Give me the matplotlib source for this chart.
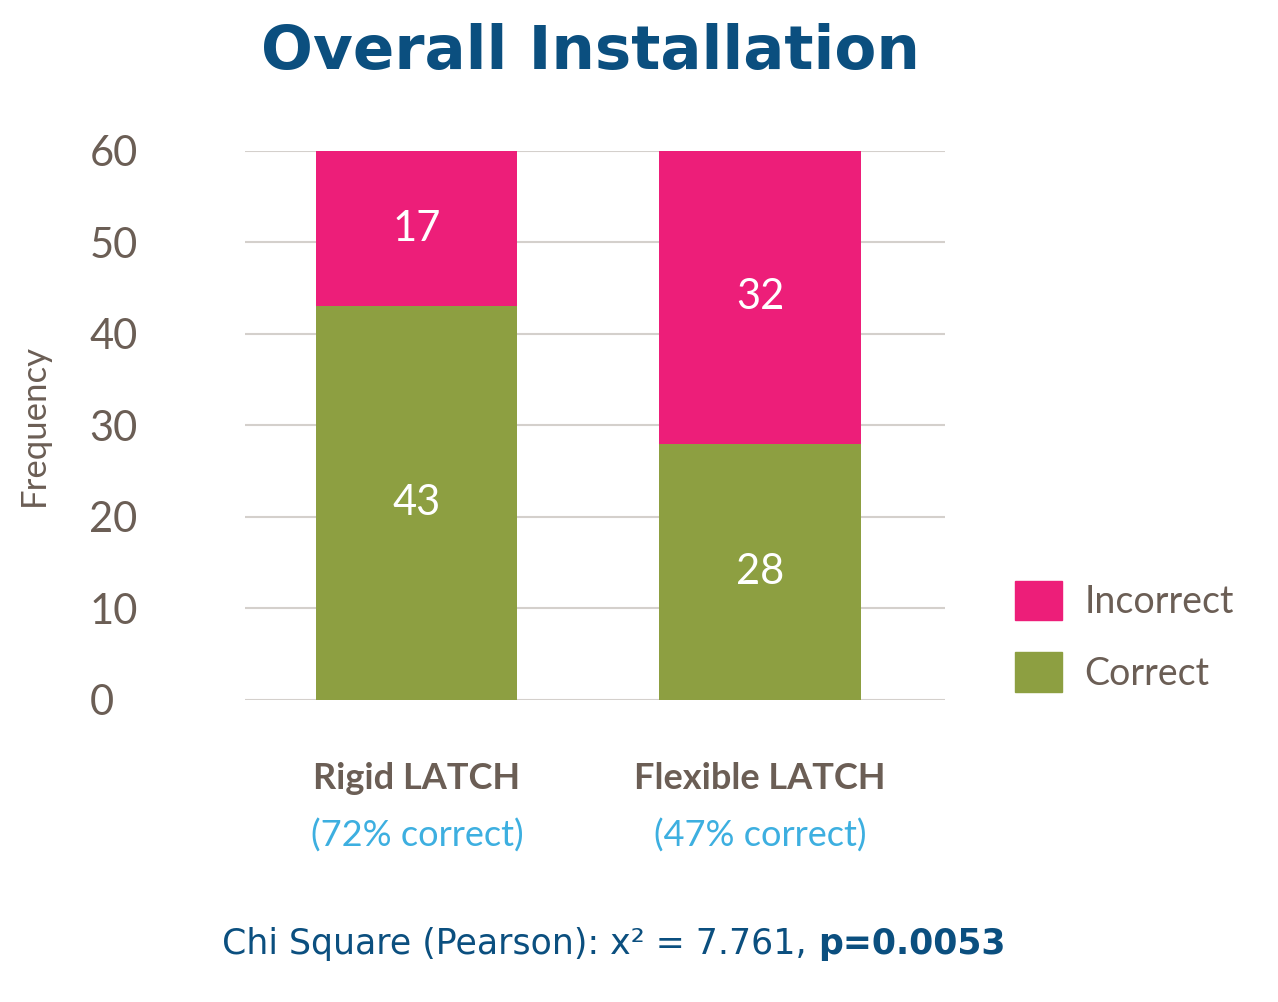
import matplotlib
matplotlib.use("Agg")
import matplotlib.pyplot as plt
from matplotlib.patches import Patch

categories = ["Rigid LATCH", "Flexible LATCH"]
subtitles = ["(72% correct)", "(47% correct)"]
correct = [43, 28]
incorrect = [17, 32]

PINK = "#ED1E79"
GREEN = "#8D9F41"
BROWN = "#6B5E55"
BLUE = "#0B4F7F"
LIGHTBLUE = "#3DAFE0"

plt.rcParams["font.family"] = ["Lato", "DejaVu Sans"]

fig = plt.figure(figsize=(12.78, 10.02), dpi=100)
ax = fig.add_axes([0.1917, 0.3014, 0.5477, 0.548])

x = list(range(len(categories)))
width = 0.586
ax.bar(x, correct, width, color=GREEN, zorder=2)
ax.bar(x, incorrect, width, bottom=correct, color=PINK, zorder=2)

for i in x:
    ax.text(i, correct[i] / 2, str(correct[i]), ha="center", va="center",
            color="white", fontsize=30, zorder=3)
    ax.text(i, correct[i] + incorrect[i] / 2, str(incorrect[i]), ha="center",
            va="center", color="white", fontsize=30, zorder=3)

ax.set_xlim(-0.501, 1.539)
ax.set_ylim(0, 60)
ax.set_yticks(range(0, 61, 10))
ax.yaxis.grid(True, color="#d4d0cc", linewidth=1.5, zorder=0)
ax.tick_params(axis="y", length=0, pad=112, labelsize=30, labelcolor=BROWN)
ax.tick_params(axis="x", length=0, labelbottom=False)
for s in ax.spines.values():
    s.set_visible(False)
for lbl in ax.get_yticklabels():
    lbl.set_horizontalalignment("left")
ax.set_ylabel("Frequency", fontsize=25, color=BROWN)
ax.yaxis.set_label_coords(-0.279, 0.5)

for i in x:
    ax.text(i, -8.6, categories[i], ha="center", va="center", fontsize=26,
            fontweight="bold", color=BROWN)
    ax.text(i, -14.8, subtitles[i], ha="center", va="center", fontsize=26,
            color=LIGHTBLUE)

handles = [Patch(color=PINK, label="Incorrect"), Patch(color=GREEN, label="Correct")]
leg = fig.legend(handles=handles, loc="center left",
                 bbox_to_anchor=(0.768, 0.365), frameon=False, fontsize=27,
                 handlelength=1.25, handleheight=1.25, labelspacing=0.85,
                 handletextpad=0.6)
for t in leg.get_texts():
    t.set_color(BROWN)

fig.text(0.462, 0.948, "Overall Installation", ha="center", va="center",
         fontsize=44, fontweight="bold", color=BLUE, family="DejaVu Sans")
fig.text(0.64, 0.058, "Chi Square (Pearson): x² = 7.761, ", ha="right",
         va="center", fontsize=25, color=BLUE, family="DejaVu Sans")
fig.text(0.64, 0.058, "p=0.0053", ha="left", va="center", fontsize=25,
         fontweight="bold", color=BLUE, family="DejaVu Sans")

fig.savefig("out.png", dpi=100, facecolor="white")
